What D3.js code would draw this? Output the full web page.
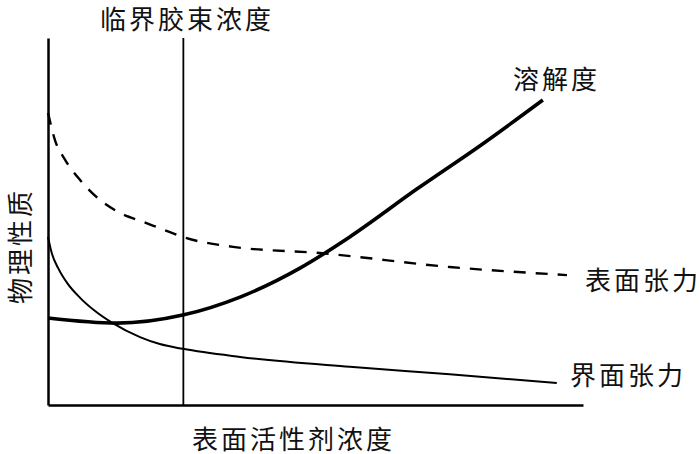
<!DOCTYPE html>
<html>
<head>
<meta charset="utf-8">
<script src="https://cdn.jsdelivr.net/npm/d3@7"></script>
<style>
  body { margin: 0; background: #fff; }
  svg text { font-family: "Noto Sans CJK SC", "Noto Sans", sans-serif; font-size: 26px; fill: #111; letter-spacing: 3px; }
</style>
</head>
<body>
<svg id="chart" width="700" height="454"></svg>
<script>
// concentration (x) and property (y), both in arbitrary 0-100 units
let cmc = 25.3

let solubility = [
  [0, 23.7], [12.9, 22.3], [25.2, 24.5], [35.9, 29.4], [47.1, 37.3],
  [56.4, 45.8], [69.0, 58.9], [81.3, 71.2], [92.5, 83.1]
]

let surfaceTension = [
  [0, 79.6], [1.3, 72.2], [3.2, 66.8], [6.0, 61.3], [9.7, 55.9], [13.5, 52.3],
  [17.8, 49.9], [22.8, 47.1], [25.2, 45.8], [34.6, 43.1], [50.8, 41.4],
  [75.1, 37.6], [97.0, 35.4]
]

let interfacialTension = [
  [0, 45.8], [0.7, 41.4], [1.9, 37.3], [3.6, 33.2], [6.0, 29.2], [8.8, 25.6],
  [12.1, 22.3], [17.2, 18.5], [20.9, 16.6], [25.2, 15.3], [35.9, 13.1],
  [56.4, 10.4], [75.1, 8.4], [95.1, 6.0]
]

let labels = {
  cmc: '临界胶束浓度',
  xTitle: '表面活性剂浓度',
  yTitle: '物理性质',
  solubility: '溶解度',
  surface: '表面张力',
  interfacial: '界面张力'
}

let svg = d3.select('#chart')

let xScale = d3.scaleLinear().domain([0, 100]).range([48, 583])
let yScale = d3.scaleLinear().domain([0, 100]).range([405, 38])

// axes without ticks, just the two lines
svg.append('g')
  .attr('transform', `translate(0, ${yScale(0)})`)
  .call(d3.axisBottom(xScale).ticks(0).tickSizeOuter(0))
  .select('.domain').attr('stroke', '#000').attr('stroke-width', 2.5)

svg.append('g')
  .attr('transform', `translate(${xScale(0)}, 0)`)
  .call(d3.axisLeft(yScale).ticks(0).tickSizeOuter(0))
  .select('.domain').attr('stroke', '#000').attr('stroke-width', 2.5)

// CMC vertical
svg.append('line')
  .attr('x1', xScale(cmc)).attr('x2', xScale(cmc))
  .attr('y1', yScale(0)).attr('y2', yScale(100))
  .attr('stroke', '#000').attr('stroke-width', 1.8)

let lineGen = d3.line()
  .x(d => xScale(d[0]))
  .y(d => yScale(d[1]))
  .curve(d3.curveMonotoneX)

svg.append('path').datum(surfaceTension)
  .attr('d', lineGen).attr('fill', 'none')
  .attr('stroke', '#000').attr('stroke-width', 2.4)
  .attr('stroke-dasharray', '12,10')

svg.append('path').datum(interfacialTension)
  .attr('d', lineGen).attr('fill', 'none')
  .attr('stroke', '#000').attr('stroke-width', 2)

svg.append('path').datum(solubility)
  .attr('d', lineGen).attr('fill', 'none')
  .attr('stroke', '#000').attr('stroke-width', 3.6)

// texts
svg.append('text').attr('x', 100).attr('y', 17)
  .attr('dominant-baseline', 'central').text(labels.cmc)

svg.append('text').attr('x', 192).attr('y', 437)
  .attr('dominant-baseline', 'central').text(labels.xTitle)

svg.append('text')
  .attr('transform', 'translate(18, 304) rotate(-90)')
  .attr('dominant-baseline', 'central').text(labels.yTitle)

svg.append('text').attr('x', 513).attr('y', 77)
  .attr('dominant-baseline', 'central').text(labels.solubility)

svg.append('text').attr('x', 585).attr('y', 278)
  .attr('dominant-baseline', 'central').text(labels.surface)

svg.append('text').attr('x', 570).attr('y', 373)
  .attr('dominant-baseline', 'central').text(labels.interfacial)
</script>
</body>
</html>
